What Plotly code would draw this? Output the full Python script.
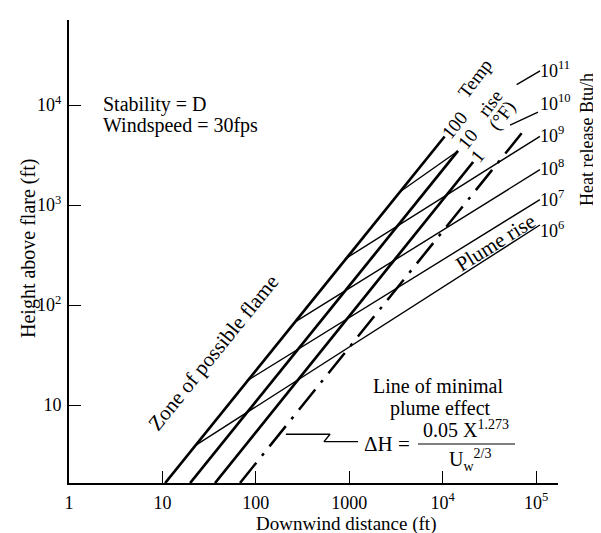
import plotly.graph_objects as go

# ---------------- data ----------------
# thick "temperature rise" lines (deg F)
temp_labels = ["100", "10", "1"]
temp_x0 = [10.7, 19.8, 36.6]
temp_y0 = [1.66, 1.66, 1.66]
temp_x1 = [10500, 14600, 21200]
temp_y1 = [4840, 3470, 2690]

# line of minimal plume effect (dash-dot)
minimal_x = [67.7, 78000]
minimal_y = [1.66, 5900]

# heat release (plume rise) lines, Btu/h
heat_labels = ["10<sup>6</sup>", "10<sup>7</sup>", "10<sup>8</sup>", "10<sup>9</sup>", "10<sup>10</sup>", "10<sup>11</sup>"]
heat_x0 = [22.2, 82.5, 261, 931, 3470]
heat_y0 = [3.9, 17.7, 67.3, 294, 1350]
heat_x1 = [110000, 110000, 110000, 110000, 14600]
heat_y1 = [631, 1130, 2255, 4860, 3470]

# short leader segments for 10^10 and 10^11
leader_x0 = [52700, 62000]
leader_y0 = [6300, 16000]
leader_x1 = [105000, 110400]
leader_y1 = [8500, 21900]

# pointer to the dash-dot line
pointer_x = [210, 623, 537, 1243]
pointer_y = [5.1, 5.1, 4.3, 4.3]

x_tickvals = [1, 10, 100, 1000, 1e4, 1e5]
x_ticktext = ["1", "10", "100", "1000", "10<sup>4</sup>", "10<sup>5</sup>"]
y_tickvals = [10, 100, 1000, 1e4]
y_ticktext = ["10", "10<sup>2</sup>", "10<sup>3</sup>", "10<sup>4</sup>"]

# ---------------- layout geometry ----------------
W, H = 601, 533
ML, MR, MT, MB = 61, 51, 12, 58
PW, PH = W - ML - MR, H - MT - MB
FONT = "Liberation Serif"


def px(xp):
    return (xp - ML) / PW


def py(yp):
    return (H - MB - yp) / PH


fig = go.Figure()

blk = "black"
for i in range(len(temp_x0)):
    fig.add_trace(go.Scatter(x=[temp_x0[i], temp_x1[i]], y=[temp_y0[i], temp_y1[i]],
                             mode="lines", line=dict(color=blk, width=2.7),
                             hoverinfo="skip", showlegend=False))

fig.add_trace(go.Scatter(x=minimal_x, y=minimal_y, mode="lines",
                         line=dict(color=blk, width=2.5, dash="26px,9px,3px,9px"),
                         hoverinfo="skip", showlegend=False))

for i in range(len(heat_x0)):
    fig.add_trace(go.Scatter(x=[heat_x0[i], heat_x1[i]], y=[heat_y0[i], heat_y1[i]],
                             mode="lines", line=dict(color=blk, width=1.4),
                             hoverinfo="skip", showlegend=False))

for i in range(len(leader_x0)):
    fig.add_trace(go.Scatter(x=[leader_x0[i], leader_x1[i]], y=[leader_y0[i], leader_y1[i]],
                             mode="lines", line=dict(color=blk, width=1.4),
                             hoverinfo="skip", showlegend=False))

fig.add_trace(go.Scatter(x=pointer_x, y=pointer_y, mode="lines",
                         line=dict(color=blk, width=1.4),
                         hoverinfo="skip", showlegend=False))

ann = []


def text(xp, yp, s, size=20, angle=0, xanchor="center", yanchor="middle"):
    ann.append(dict(x=px(xp), y=py(yp), xref="paper", yref="paper", text=s,
                    showarrow=False, textangle=angle, xanchor=xanchor, yanchor=yanchor,
                    borderpad=0,
                    font=dict(family=FONT, size=size, color=blk)))


# heat release labels at right
heat_label_y = [221, 190, 159, 126, 94, 62]
for lab, yy in zip(heat_labels, heat_label_y):
    text(531, yy, lab, size=18, xanchor="left")

# temp rise labels
text(446, 117, temp_labels[0], size=19, angle=-51)
text(459, 131, temp_labels[1], size=19, angle=-51)
text(470, 148, temp_labels[2], size=19, angle=-51)
text(467, 71, "Temp", size=19, angle=-53)
text(482, 96, "rise", size=19, angle=-53)
text(494, 108, "(°F)", size=19, angle=-53)

text(94, 97, "Stability = D", size=20, xanchor="left")
text(94, 117, "Windspeed = 30fps", size=20, xanchor="left")

text(205, 345, "Zone of possible flame", size=21, angle=-51)
text(487, 235, "Plume rise", size=21, angle=-32)

text(430, 378, "Line of minimal", size=20)
text(432, 400, "plume effect", size=20)
text(379, 436, "ΔH =", size=21)
text(458, 421, "0.05 X<sup>1.273</sup>", size=20)
text(462, 452, "U<sub>w</sub><sup>2/3</sup>", size=20)

text(20, 241, "Height above flare (ft)", size=20, angle=-90)
text(579, 132, "Heat release Btu/h", size=18, angle=-90)
text(338, 516, "Downwind distance (ft)", size=19)

fig.update_layout(
    width=W, height=H, autosize=False,
    margin=dict(l=ML, r=MR, t=MT, b=MB, pad=0),
    plot_bgcolor="white", paper_bgcolor="white",
    showlegend=False,
    annotations=ann,
    shapes=[dict(type="line", xref="paper", yref="paper",
                 x0=px(410), x1=px(507), y0=py(436), y1=py(436),
                 line=dict(color=blk, width=1.2))],
    xaxis=dict(type="log", range=[0, 5.235], showgrid=False, zeroline=False,
               showline=True, linecolor=blk, linewidth=2, ticks="inside",
               ticklen=12, tickwidth=1, tickcolor=blk,
               tickvals=x_tickvals, ticktext=x_ticktext,
               tickfont=dict(family=FONT, size=18, color=blk),
               ticklabelstandoff=2),
    yaxis=dict(type="log", range=[0.22, 4.85], showgrid=False, zeroline=False,
               showline=True, linecolor=blk, linewidth=2, ticks="inside",
               ticklen=12, tickwidth=1, tickcolor=blk,
               tickvals=y_tickvals, ticktext=y_ticktext,
               tickfont=dict(family=FONT, size=18, color=blk),
               ticklabelstandoff=2),
)

fig.write_html("out.html")
